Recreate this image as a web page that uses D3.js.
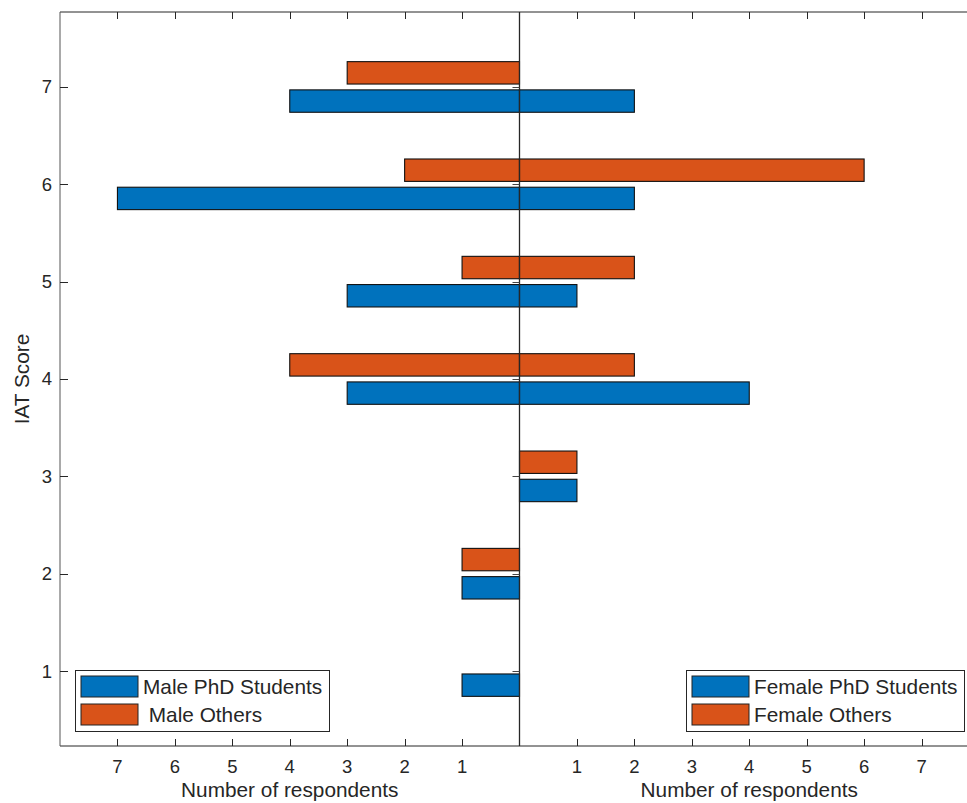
<!DOCTYPE html>
<html>
<head>
<meta charset="utf-8">
<script src="https://cdn.jsdelivr.net/npm/d3@7"></script>
<style>
  html, body { margin: 0; padding: 0; background: #fff; }
  svg { display: block; }
  text { font-family: "Liberation Sans", Arial, Helvetica, sans-serif; fill: #262626; }
</style>
</head>
<body>
<svg id="chart" width="967" height="803"></svg>
<script>
// ---- data ----
const scores = [1, 2, 3, 4, 5, 6, 7];
const malePhD = [1, 1, 0, 3, 3, 7, 4];
const maleOthers = [0, 1, 0, 4, 1, 2, 3];
const femalePhD = [0, 0, 1, 4, 1, 2, 2];
const femaleOthers = [0, 0, 1, 2, 2, 6, 0];
const xTickValues = [1, 2, 3, 4, 5, 6, 7];
const yTickValues = [1, 2, 3, 4, 5, 6, 7];
const maleLegend = ["Male PhD Students", " Male Others"];
const femaleLegend = ["Female PhD Students", "Female Others"];

// ---- layout ----
const W = 967, H = 803;
const pLeft = 60, pCenter = 519.5, pRight = 979, pTop = 12, pBottom = 746;
const blue = "#0072BD", orange = "#D95319", axisCol = "#262626";
const svg = d3.select("#chart");

const xL = d3.scaleLinear().domain([8, 0]).range([pLeft, pCenter]);
const xR = d3.scaleLinear().domain([0, 8]).range([pCenter, pRight]);
const y = d3.scaleLinear().domain([0.23, 7.77]).range([pBottom, pTop]);
const off = 0.145, bh = 0.23;

// bars
function drawBars(vals, xs, side, dy, color) {
  svg.append("g").selectAll("rect")
    .data(scores.map((s, i) => ({ s, v: vals[i] })).filter(d => d.v > 0))
    .join("rect")
    .attr("x", d => side < 0 ? xs(d.v) : xs(0))
    .attr("width", d => side < 0 ? xs(0) - xs(d.v) : xs(d.v) - xs(0))
    .attr("y", d => y(d.s + dy + bh / 2))
    .attr("height", d => y(d.s + dy - bh / 2) - y(d.s + dy + bh / 2))
    .attr("fill", color)
    .attr("stroke", "#111")
    .attr("stroke-width", 1.1);
}
drawBars(malePhD, xL, -1, -off, blue);
drawBars(maleOthers, xL, -1, off, orange);
drawBars(femalePhD, xR, 1, -off, blue);
drawBars(femaleOthers, xR, 1, off, orange);

// axes frame
const fr = svg.append("g").attr("stroke", axisCol).attr("stroke-width", 1).attr("fill", "none");
fr.append("line").attr("x1", pLeft).attr("x2", W).attr("y1", pTop).attr("y2", pTop);
fr.append("line").attr("x1", pLeft).attr("x2", W).attr("y1", pBottom).attr("y2", pBottom);
fr.append("line").attr("x1", pLeft).attr("x2", pLeft).attr("y1", pTop).attr("y2", pBottom).attr("stroke", "#555");
fr.append("line").attr("x1", pCenter).attr("x2", pCenter).attr("y1", pTop).attr("y2", pBottom).attr("stroke-width", 1.3);

// x ticks (inward, top and bottom) + labels
const tl = 7;
[xL, xR].forEach(xs => {
  const g = svg.append("g");
  xTickValues.forEach(v => {
    const px = Math.round(xs(v)) + 0.5;
    g.append("line").attr("x1", px).attr("x2", px).attr("y1", pBottom).attr("y2", pBottom - tl)
      .attr("stroke", axisCol);
    g.append("line").attr("x1", px).attr("x2", px).attr("y1", pTop).attr("y2", pTop + tl)
      .attr("stroke", axisCol);
    g.append("text").attr("x", xs(v)).attr("y", 773).attr("text-anchor", "middle")
      .attr("font-size", 18.5).text(v);
  });
});

// y ticks
const gy = svg.append("g");
yTickValues.forEach(v => {
  const py = Math.round(y(v)) + 0.5;
  gy.append("line").attr("x1", pLeft).attr("x2", pLeft + 8).attr("y1", py).attr("y2", py).attr("stroke", axisCol);
  gy.append("line").attr("x1", pCenter).attr("x2", pCenter - 7).attr("y1", py).attr("y2", py).attr("stroke", "#444");
  gy.append("text").attr("x", 52).attr("y", y(v)).attr("dy", "0.35em").attr("text-anchor", "end")
    .attr("font-size", 18.5).text(v);
});

// axis labels
svg.append("text").attr("x", (pLeft + pCenter) / 2).attr("y", 797).attr("text-anchor", "middle")
  .attr("font-size", 20.8).text("Number of respondents");
svg.append("text").attr("x", (pCenter + pRight) / 2).attr("y", 797).attr("text-anchor", "middle")
  .attr("font-size", 20.8).text("Number of respondents");
svg.append("text").attr("transform", `translate(29,${(pTop + pBottom) / 2}) rotate(-90)`)
  .attr("text-anchor", "middle").attr("font-size", 20.8).text("IAT Score");

// legends
function legend(x0, x1, labels) {
  const g = svg.append("g");
  g.append("rect").attr("x", x0 + 0.5).attr("y", 670.5).attr("width", x1 - x0).attr("height", 61)
    .attr("fill", "#fff").attr("stroke", axisCol);
  [blue, orange].forEach((c, i) => {
    const yy = 676 + i * 28;
    g.append("rect").attr("x", x0 + 6).attr("y", yy).attr("width", 57).attr("height", 21)
      .attr("fill", c).attr("stroke", "#222");
    g.append("text").attr("x", x0 + 68).attr("y", yy + 18).attr("font-size", 20.8)
      .attr("xml:space", "preserve").style("white-space", "pre").text(labels[i]);
  });
}
legend(75, 329, maleLegend);
legend(686, 964, femaleLegend);
</script>
</body>
</html>
